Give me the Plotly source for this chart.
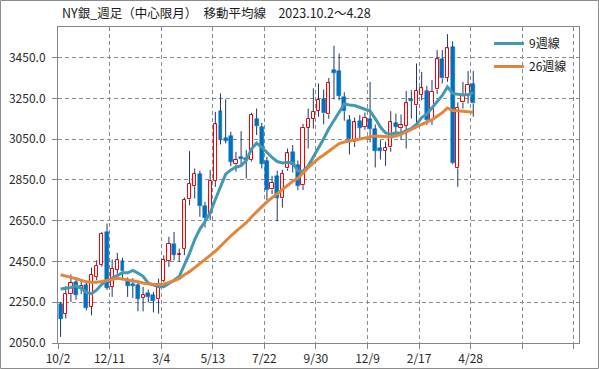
import plotly.graph_objects as go

# ---- data ----
tick_labels = ["10/2", "12/11", "3/4", "5/13", "7/22", "9/30", "12/9", "2/17", "4/28"]

opens = [2240, 2194, 2289, 2350, 2320, 2333, 2227, 2374, 2433, 2595,
         2325, 2410, 2451, 2358, 2341, 2333, 2271, 2296, 2284, 2264,
         2355, 2453, 2538, 2484, 2513, 2754, 2819, 2878, 2721, 2682,
         2845, 3187, 3056, 3065, 2927, 2963, 2958, 2947, 3148, 3110,
         2942, 2803, 2870, 2759, 2906, 2988, 2922, 2824, 3107, 3151,
         3189, 3246, 3171, 3389, 3384, 3258, 3143, 3034, 3140, 3111,
         3148, 3099, 3007, 2993, 3009, 3127, 3106, 3114, 3246, 3215,
         3266, 3285, 3143, 3294, 3441, 3351, 3500, 2906, 3230, 3263,
         3320]
highs = [2252, 2330, 2386, 2372, 2360, 2345, 2420, 2456, 2595, 2636,
         2460, 2492, 2468, 2372, 2368, 2345, 2325, 2312, 2300, 2366,
         2480, 2571, 2595, 2513, 2764, 2991, 2906, 2895, 2742, 2898,
         3184, 3274, 3245, 3086, 2988, 3089, 2996, 3179, 3200, 3130,
         2963, 2870, 2895, 2900, 3004, 3021, 2945, 3125, 3200, 3299,
         3323, 3294, 3350, 3508, 3470, 3280, 3168, 3156, 3168, 3180,
         3331, 3122, 3045, 3037, 3187, 3175, 3171, 3287, 3290, 3421,
         3380, 3310, 3340, 3487, 3487, 3565, 3530, 3230, 3331, 3384,
         3384]
lows = [2080, 2170, 2251, 2262, 2290, 2210, 2186, 2358, 2425, 2310,
        2276, 2390, 2358, 2276, 2270, 2206, 2205, 2248, 2200, 2194,
        2350, 2423, 2456, 2448, 2481, 2726, 2759, 2669, 2616, 2652,
        2816, 3024, 3029, 2917, 2890, 2917, 2857, 2940, 3070, 2906,
        2750, 2780, 2647, 2714, 2895, 2886, 2800, 2800, 3004, 3102,
        3160, 3122, 3150, 3245, 3241, 3140, 2975, 3012, 3053, 3095,
        3034, 2911, 2950, 2919, 2988, 3070, 3045, 3004, 3151, 3127,
        3241, 3119, 3120, 3271, 3323, 3331, 2927, 2816, 3200, 3225,
        3160]
closes = [2170, 2289, 2345, 2287, 2328, 2222, 2385, 2430, 2584, 2322,
          2415, 2456, 2402, 2330, 2330, 2268, 2287, 2276, 2256, 2329,
          2456, 2538, 2484, 2489, 2751, 2832, 2881, 2721, 2664, 2845,
          3122, 3048, 3042, 2939, 2947, 2952, 2950, 3168, 3115, 2930,
          2800, 2837, 2762, 2881, 2980, 2925, 2819, 3107, 3151, 3184,
          3241, 3176, 3323, 3376, 3263, 3187, 3050, 3132, 3106, 3155,
          3099, 2993, 2993, 3006, 3132, 3111, 3117, 3225, 3238, 3286,
          3299, 3143, 3282, 3441, 3348, 3495, 2932, 3205, 3261, 3315,
          3225]
ma9 = [2315, 2318, 2322, 2330, 2318, 2298, 2292, 2310, 2338, 2355,
       2369, 2381, 2394, 2394, 2406, 2393, 2377, 2343, 2336, 2326,
       2326, 2341, 2358, 2376, 2430, 2490, 2557, 2609, 2646, 2689,
       2754, 2817, 2878, 2899, 2912, 2920, 2945, 3001, 3031, 3010,
       2983, 2960, 2940, 2933, 2936, 2933, 2894, 2893, 2918, 2961,
       3006, 3052, 3101, 3145, 3182, 3223, 3217, 3215, 3206, 3196,
       3188, 3151, 3109, 3080, 3074, 3081, 3079, 3092, 3102, 3122,
       3156, 3173, 3204, 3238, 3264, 3306, 3274, 3270, 3267, 3269,
       3278]
ma26 = [2385, 2380, 2372, 2365, 2357, 2350, 2348, 2348, 2352, 2358,
        2364, 2367, 2364, 2360, 2356, 2350, 2344, 2340, 2337, 2337,
        2340, 2347, 2356, 2366, 2385, 2400, 2420, 2440, 2458, 2478,
        2500, 2525, 2552, 2575, 2598, 2618, 2640, 2668, 2695, 2718,
        2742, 2762, 2780, 2800, 2822, 2843, 2858, 2885, 2910, 2933,
        2955, 2972, 2990, 3010, 3028, 3036, 3041, 3046, 3052, 3058,
        3062, 3065, 3064, 3061, 3060, 3065, 3073, 3085, 3096, 3110,
        3122, 3132, 3145, 3162, 3180, 3203, 3190, 3189, 3187, 3185,
        3182]

n = len(closes)
idx = list(range(n))

# ---- derived pieces for drawing ----
up_x, up_base, up_h = [], [], []
dn_x, dn_base, dn_h = [], [], []
wx, wy = [], []
for i in idx:
    o, h, l, c = opens[i], highs[i], lows[i], closes[i]
    top, bot = max(o, c), min(o, c)
    if c >= o:
        up_x.append(i); up_base.append(bot); up_h.append(max(top - bot, 1))
    else:
        dn_x.append(i); dn_base.append(bot); dn_h.append(max(top - bot, 1))
    wx += [i, i, None, i, i, None]
    wy += [l, bot, None, top, h, None]

WICK = "#1F3864"
UP = "#FF0000"
DOWN = "#0070C0"
TEAL = "#4399B3"
ORANGE = "#E3863B"
GRID = "#8C8C8C"
FONT = "Noto Sans CJK JP"

fig = go.Figure()
fig.add_trace(go.Scatter(x=wx, y=wy, mode="lines", line=dict(color=WICK, width=1),
                         hoverinfo="skip", showlegend=False))
fig.add_trace(go.Bar(x=up_x, y=up_h, base=up_base, width=0.62,
                     marker=dict(color="white", line=dict(color=UP, width=1)),
                     showlegend=False))
fig.add_trace(go.Bar(x=dn_x, y=dn_h, base=dn_base, width=0.76,
                     marker=dict(color=DOWN, line=dict(color=DOWN, width=0.5)),
                     showlegend=False))
fig.add_trace(go.Scatter(x=idx, y=ma9, mode="lines", name="9週線",
                         line=dict(color=TEAL, width=3), legend="legend"))
fig.add_trace(go.Scatter(x=idx, y=ma26, mode="lines", name="26週線",
                         line=dict(color=ORANGE, width=3), legend="legend2"))

L, R, T, B = 58, 20, 27, 26
W, H = 599, 369
pw, ph = W - L - R, H - T - B

tickvals = [k * 10 - 0.5 for k in range(11)]
ticktext = tick_labels + [""] * (len(tickvals) - len(tick_labels))

fig.update_layout(
    width=W, height=H, autosize=False,
    margin=dict(l=L, r=R, t=T, b=B, pad=0, autoexpand=False),
    paper_bgcolor="white", plot_bgcolor="white",
    barmode="overlay", bargap=0,
    font=dict(family=FONT, size=12, color="#333333"),
    title=dict(text="NY銀_週足（中心限月）　移動平均線　2023.10.2～4.28",
               x=62 / W, xanchor="left", y=1 - 14 / H, yanchor="middle",
               automargin=False,
               font=dict(family=FONT, size=12.5, color="#1a1a1a")),
    xaxis=dict(range=[-0.5, 100.5], tickmode="array", tickvals=tickvals, ticktext=ticktext,
               showgrid=True, gridcolor=GRID, griddash="4px,3px", gridwidth=1,
               showline=True, linecolor="#868686", linewidth=1, mirror=True,
               ticks="outside", ticklen=5, tickcolor="#868686", automargin=False,
               tickfont=dict(size=12, color="#2a2a2a"), zeroline=False, fixedrange=True),
    yaxis=dict(range=[2050, 3600], tick0=2050, dtick=200, tickformat=".1f",
               showgrid=True, gridcolor=GRID, griddash="4px,3px", gridwidth=1,
               showline=True, linecolor="#868686", linewidth=1, mirror=True,
               ticks="outside", ticklen=5, tickcolor="#868686", ticklabelstandoff=4,
               automargin=False,
               tickfont=dict(size=12, color="#2a2a2a"), zeroline=False, fixedrange=True),
    legend=dict(x=(489 - L) / pw, y=1 - (29 - T) / ph, xanchor="left", yanchor="top",
                bgcolor="rgba(0,0,0,0)", font=dict(family=FONT, size=12, color="#1a1a1a"),
                itemwidth=30),
    legend2=dict(x=(489 - L) / pw, y=1 - (52 - T) / ph, xanchor="left", yanchor="top",
                 bgcolor="rgba(0,0,0,0)", font=dict(family=FONT, size=12, color="#1a1a1a"),
                 itemwidth=30),
    shapes=[dict(type="rect", xref="paper", yref="paper",
                 x0=(0.5 - L) / pw, x1=(W - 0.5 - L) / pw,
                 y0=-(B - 0.5) / ph, y1=1 + (T - 0.5) / ph,
                 line=dict(color="#8C8C8C", width=1), fillcolor="rgba(0,0,0,0)")],
    showlegend=True,
)

fig.write_html("out.html",
               config={"displayModeBar": False, "staticPlot": False},
               post_script="document.body.style.margin='0';document.body.style.padding='0';"
                           "document.body.style.overflow='hidden';")
